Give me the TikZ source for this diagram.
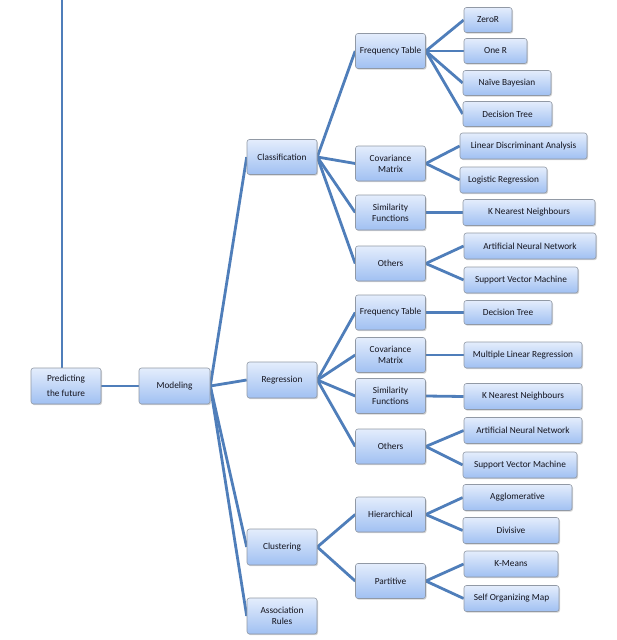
\documentclass[tikz,border=0pt]{standalone}
\usepackage{fontspec}
\setmainfont{Carlito}
\usetikzlibrary{shadows,backgrounds}
\definecolor{linkblue}{RGB}{79,126,186}
\definecolor{boxtop}{RGB}{228,237,252}
\definecolor{boxbot}{RGB}{160,192,242}
\definecolor{boxedge}{RGB}{145,153,165}
\definecolor{txt}{RGB}{20,20,30}
\tikzset{
  box/.style={draw=boxedge, line width=0.6pt, rounded corners=2.5pt,
    top color=boxtop, bottom color=boxbot, inner sep=0pt, align=center,
    text=txt, font=\fontsize{9.3}{11}\selectfont,
    drop shadow={opacity=0.35, shadow xshift=1pt, shadow yshift=-1.2pt, fill=black!50}},
  mid/.style={box, minimum width=70pt, minimum height=35pt},
  leaf/.style={box, minimum height=26pt},
  link/.style={draw=linkblue, line width=2.8pt}
}
\begin{document}
\begin{tikzpicture}[x=1pt,y=-1pt]
\useasboundingbox (0,0) rectangle (616,640);
% level 0/1
\node[mid, minimum width=70pt, minimum height=36pt] (pred) at (66,386) {Predicting\\[4pt]the future};
\node[mid, minimum width=71pt, minimum height=36pt] (model) at (174.5,386) {Modeling};
% level 2
\node[mid] (cls) at (282,157) {Classification};
\node[mid, minimum height=36pt] (reg) at (282,380) {Regression};
\node[mid, minimum height=36pt] (clu) at (282,547) {Clustering};
\node[mid, minimum height=36pt] (asr) at (282,616) {Association\\Rules};
% level 3
\node[mid] (ft1) at (390.5,51) {Frequency Table};
\node[mid] (cm1) at (390.5,163.5) {Covariance\\Matrix};
\node[mid] (sf1) at (390.5,212.5) {Similarity\\Functions};
\node[mid] (ot1) at (390.5,263.5) {Others};
\node[mid] (ft2) at (390.5,312.5) {Frequency Table};
\node[mid] (cm2) at (390.5,355) {Covariance\\Matrix};
\node[mid] (sf2) at (390.5,396) {Similarity\\Functions};
\node[mid] (ot2) at (390.5,446.5) {Others};
\node[mid] (hier) at (390.5,514.5) {Hierarchical};
\node[mid] (part) at (390.5,581) {Partitive};
% leaves
\node[leaf, minimum width=48pt, minimum height=25pt] (zr) at (488,20) {ZeroR};
\node[leaf, minimum width=63pt, minimum height=25pt] (oner) at (495.5,51) {One R};
\node[leaf, minimum width=88pt, minimum height=25pt] (nb) at (507,83) {Naïve Bayesian};
\node[leaf, minimum width=89pt, minimum height=25pt] (dt1) at (507.5,114) {Decision Tree};
\node[leaf, minimum width=127pt] (lda) at (523.5,146) {Linear Discriminant Analysis};
\node[leaf, minimum width=87pt] (lr) at (503.5,180) {Logistic Regression};
\node[leaf, minimum width=132pt] (knn1) at (529,212.5) {K Nearest Neighbours};
\node[leaf, minimum width=132pt] (ann1) at (530,246) {Artificial Neural Network};
\node[leaf, minimum width=114pt] (svm1) at (521,280) {Support Vector Machine};
\node[leaf, minimum width=88pt, minimum height=24pt] (dt2) at (508,312.5) {Decision Tree};
\node[leaf, minimum width=118pt] (mlr) at (523,355) {Multiple Linear Regression};
\node[leaf, minimum width=118pt] (knn2) at (523,396.5) {K Nearest Neighbours};
\node[leaf, minimum width=118pt] (ann2) at (523,430.5) {Artificial Neural Network};
\node[leaf, minimum width=114pt] (svm2) at (520,465) {Support Vector Machine};
\node[leaf, minimum width=109pt] (agg) at (517.5,497.5) {Agglomerative};
\node[leaf, minimum width=96pt] (div) at (511,530.5) {Divisive};
\node[leaf, minimum width=94pt] (km) at (511,564) {K-Means};
\node[leaf, minimum width=95pt] (som) at (511.5,598.5) {Self Organizing Map};
\coordinate (topend) at (62,0);
\begin{scope}[on background layer]
\draw[link] (pred.north -| topend) -- (topend);
\draw[link] (pred.east) -- (model.west);
\foreach \c in {cls,reg,clu,asr} \draw[link] (model.east) -- (\c.west);
\foreach \c in {ft1,cm1,sf1,ot1} \draw[link] (cls.east) -- (\c.west);
\foreach \c in {ft2,cm2,sf2,ot2} \draw[link] (reg.east) -- (\c.west);
\foreach \c in {hier,part} \draw[link] (clu.east) -- (\c.west);
\foreach \c in {zr,oner,nb,dt1} \draw[link] (ft1.east) -- (\c.west);
\foreach \c in {lda,lr} \draw[link] (cm1.east) -- (\c.west);
\draw[link] (sf1.east) -- (knn1.west);
\foreach \c in {ann1,svm1} \draw[link] (ot1.east) -- (\c.west);
\draw[link] (ft2.east) -- (dt2.west);
\draw[link] (cm2.east) -- (mlr.west);
\draw[link] (sf2.east) -- (knn2.west);
\foreach \c in {ann2,svm2} \draw[link] (ot2.east) -- (\c.west);
\foreach \c in {agg,div} \draw[link] (hier.east) -- (\c.west);
\foreach \c in {km,som} \draw[link] (part.east) -- (\c.west);
\end{scope}
\end{tikzpicture}
\end{document}
